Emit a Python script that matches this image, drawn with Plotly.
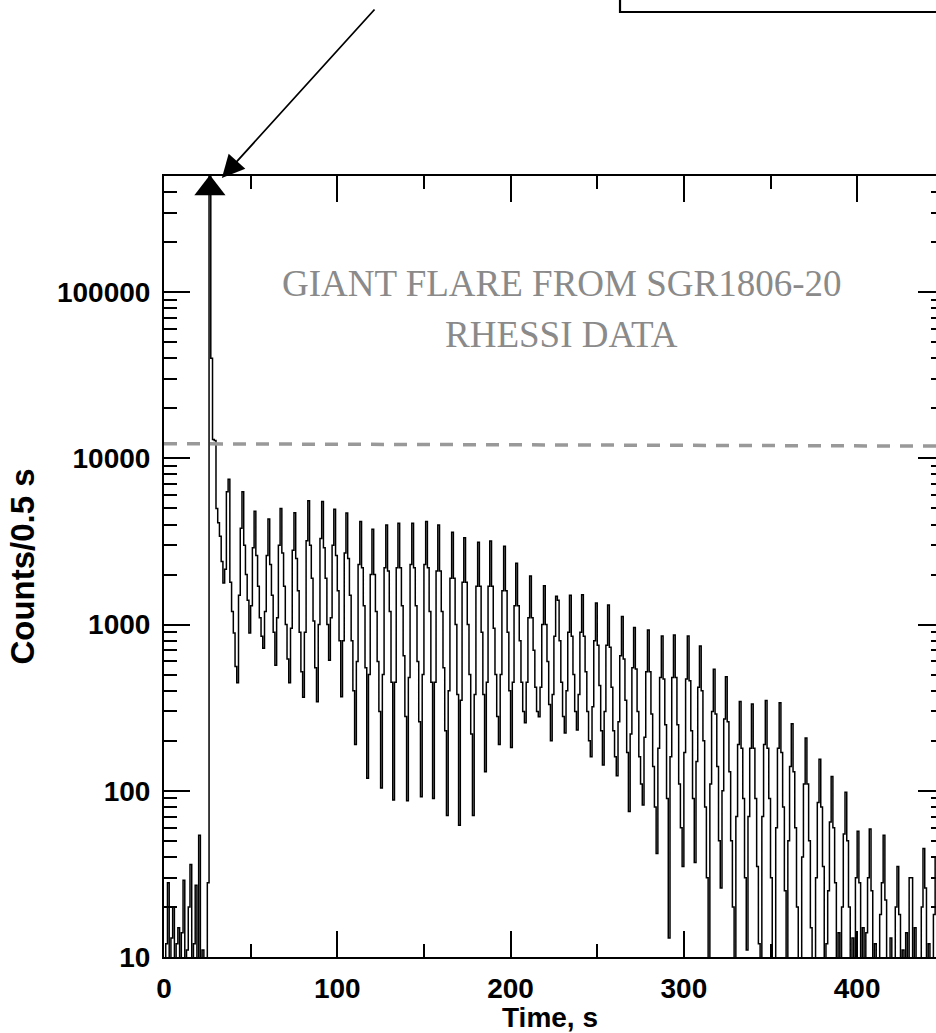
import plotly.graph_objects as go

# RHESSI counts per bin (1 s bins starting at t = 0 s); 0 = no counts
counts = [
    0, 12, 28, 0, 13, 20, 0, 12, 15, 0,
    14, 29, 0, 11, 20, 36, 0, 12, 27, 0,
    54, 0, 11, 0, 0, 28, 600000, 40000, 13000, 12800,
    5000, 4100, 3400, 2400, 1780, 2150, 6300, 7500, 1800, 1200,
    890, 560,
    446, 1500, 3800, 6300, 3000, 2000, 1400,
    890, 1300, 2900, 4800, 2600, 1700, 1100, 850,
    720, 1200, 2600, 4320, 2300, 1500, 900,
    570, 1100, 3000, 5000, 2700, 1700, 1000, 620,
    446, 950, 2800, 4710, 2500, 1600, 900, 520,
    366, 900, 3200, 5560, 3000, 1900, 1050, 550,
    343, 1000, 3300, 5500, 2900, 1900, 1000,
    610, 1100, 3000, 4950, 2600, 1600, 800,
    368, 800, 2700, 4700, 2500, 1500, 800, 400,
    190, 600, 2300, 4170, 2200, 1300, 550,
    119, 500, 2000, 3740, 2000, 1200, 600, 300,
    104, 500, 2200, 3970, 2100, 1200, 450,
    88, 450, 2200, 4070, 2200, 1300, 650, 280,
    87, 480, 2300, 4070, 2200, 1300, 600, 260,
    92, 500, 2300, 4170, 2200, 1200, 450,
    90, 450, 2100, 3970, 2100, 1200, 550, 230,
    71, 400, 1900, 3590, 1900, 1000, 380,
    62, 350, 1800, 3330, 1800, 1000, 500, 220,
    71, 380, 1700, 3130, 1700, 900, 380,
    130, 450, 1700, 3180, 1700, 950, 500, 280,
    190, 500, 1600, 2960, 1600, 900, 400,
    182, 450, 1300, 2340, 1300, 800, 450, 300,
    257, 450, 1100, 1960, 1100, 700, 420, 300,
    279, 420, 1000, 1710, 1000, 600, 330,
    200, 380, 850, 1480, 1400, 800, 450, 280,
    223, 400, 900, 1500, 850, 500, 300,
    232, 380, 900, 1510, 850, 520, 300, 200,
    160, 320, 800, 1350, 750, 430, 230,
    143, 300, 750, 1310, 730, 420, 230, 160,
    123, 260, 650, 1120, 620, 350, 170,
    75, 220, 550, 960, 540, 300, 160, 110,
    82, 210, 520, 927, 520, 290, 140, 80,
    42, 180, 480, 853, 470, 250, 90,
    13, 160, 480, 866, 480, 250, 110, 60,
    35, 170, 470, 853, 460, 230, 90,
    37, 150, 420, 743, 400, 200, 80, 30,
    0, 110, 300, 538, 290, 140, 50,
    26, 100, 270, 486, 260, 130, 50, 20,
    0, 70, 190, 344, 180, 90, 30,
    11, 70, 180, 333, 180, 90, 35, 12,
    0, 70, 190, 349, 180, 90, 30, 0,
    0, 60, 180, 339, 170, 80, 25,
    0, 50, 140, 253, 130, 60, 20, 0,
    0, 40, 110, 208, 110, 50, 15, 0,
    0, 30, 85, 155, 80, 35, 0,
    12, 25, 65, 122, 60, 28, 0, 14,
    0, 20, 55, 98, 50, 20, 0,
    13, 0, 30, 57, 28, 0, 15,
    0, 14, 30, 59, 25, 0, 12, 0,
    0, 18, 28, 54, 22, 0, 0, 13,
    0, 0, 20, 35, 18, 0, 11,
    0, 14, 0, 30, 30, 0, 15, 0,
    0, 0, 20, 45, 26, 0, 12,
    0, 0, 18, 40, 20, 0, 0, 15, 0,
]
time_s = list(range(len(counts)))

threshold_t = [0, 450]
threshold_counts = [12250, 11850]

peak_marker_t = [26.5]
peak_marker_counts = [4.2e5]

title_lines = ["GIANT FLARE FROM SGR1806-20", "RHESSI DATA"]
x_tick_vals = [0, 100, 200, 300, 400]
x_tick_text = ["0", "100", "200", "300", "400"]
y_tick_vals = [10, 100, 1000, 10000, 100000]
y_tick_text = ["10", "100", "1000", "10000", "100000"]
y_minor_vals = [m * 10 ** e for e in range(1, 6) for m in range(2, 10)]

# zero-count bins are drawn below the axis floor (clipped)
plot_counts = [c if c > 0 else 0.1 for c in counts]

X_RANGE = [0, 445.5]
Y_RANGE = [1, 5.69897]

tick_font = dict(family="Liberation Sans, Arial, sans-serif", size=28, color="black", weight="bold")
ytitle_font = dict(family="Liberation Sans, Arial, sans-serif", size=33, color="black", weight="bold")
title_font = dict(family="Liberation Serif, Times New Roman, serif", size=37, color="#8a8a8a")

fig = go.Figure()
fig.add_trace(go.Scatter(
    x=time_s, y=plot_counts, mode="lines",
    line=dict(color="black", width=1.5, shape="hv"),
    showlegend=False, hoverinfo="skip",
))
fig.add_trace(go.Scatter(
    x=threshold_t, y=threshold_counts, mode="lines", yaxis="y2",
    line=dict(color="#999999", width=3.5, dash="13px,10px"),
    showlegend=False, hoverinfo="skip",
))
fig.add_trace(go.Scatter(
    x=peak_marker_t, y=peak_marker_counts, mode="markers",
    marker=dict(symbol="triangle-up", size=27, color="black"),
    cliponaxis=False, showlegend=False, hoverinfo="skip",
))

fig.update_layout(
    width=936, height=1033,
    margin=dict(l=164, r=0, t=176, b=76),
    paper_bgcolor="white", plot_bgcolor="white",
    xaxis=dict(
        range=X_RANGE, showgrid=False, zeroline=False,
        showline=True, linecolor="black", linewidth=2, mirror="ticks",
        ticks="inside", ticklen=26, tickwidth=1.5, tickcolor="black",
        tickmode="array", tickvals=x_tick_vals, ticktext=x_tick_text,
        minor=dict(tickmode="linear", tick0=0, dtick=50, ticks="inside",
                   ticklen=13, tickwidth=1.5, tickcolor="black", showgrid=False),
        tickfont=tick_font, ticklabelstandoff=5,
        title=dict(text="Time, s", font=tick_font, standoff=2),
        automargin=False,
    ),
    yaxis=dict(
        type="log", range=Y_RANGE, showgrid=False, zeroline=False,
        showline=True, linecolor="black", linewidth=2, mirror=False,
        ticks="inside", ticklen=26, tickwidth=1.5, tickcolor="black",
        tickmode="array", tickvals=y_tick_vals, ticktext=y_tick_text,
        minor=dict(tickmode="array", tickvals=y_minor_vals, ticks="inside",
                   ticklen=13, tickwidth=1.5, tickcolor="black", showgrid=False),
        tickfont=tick_font, ticklabelstandoff=6,
        title=dict(text="Counts/0.5 s", font=ytitle_font, standoff=12),
        automargin=False,
    ),
    yaxis2=dict(
        type="log", range=Y_RANGE, overlaying="y", side="right", anchor="x",
        showgrid=False, zeroline=False, showline=False,
        ticks="inside", ticklen=18, tickwidth=1.5, tickcolor="black",
        tickmode="array", tickvals=y_tick_vals, showticklabels=False,
        minor=dict(tickmode="array", tickvals=y_minor_vals, ticks="inside",
                   ticklen=5, tickwidth=1.5, tickcolor="black", showgrid=False),
        automargin=False,
    ),
    annotations=[
        dict(
            text=title_lines[0], xref="paper", yref="paper",
            x=0.5155, y=0.8625, xanchor="center", yanchor="middle", showarrow=False,
            font=title_font,
        ),
        dict(
            text=title_lines[1], xref="paper", yref="paper",
            x=0.5155, y=0.7970, xanchor="center", yanchor="middle", showarrow=False,
            font=title_font,
        ),
        dict(
            text="", x=33.4, y=5.687, xref="x", yref="y",
            ax=154, ay=-170, axref="pixel", ayref="pixel",
            showarrow=True, arrowhead=2, arrowsize=2.5, arrowwidth=1.8,
            arrowcolor="black", standoff=0,
        ),
    ],
    shapes=[
        dict(type="rect", xref="paper", yref="paper", x0=0.5907, x1=1.1, y0=1.21, y1=1.4,
             line=dict(color="black", width=2.2), fillcolor="rgba(0,0,0,0)", layer="above"),
    ],
)

fig.write_html("out.html")
